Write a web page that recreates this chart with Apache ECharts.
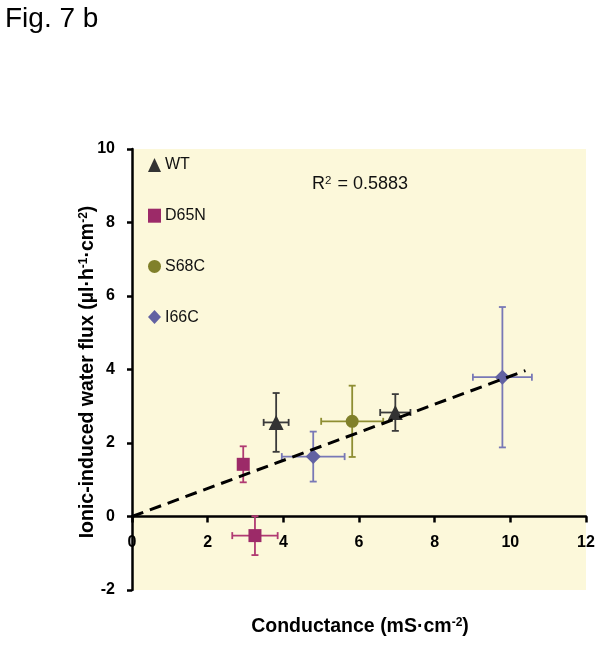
<!DOCTYPE html>
<html>
<head>
<meta charset="utf-8">
<script src="https://cdn.jsdelivr.net/npm/echarts@6/dist/echarts.min.js"></script>
<style>
html,body{margin:0;padding:0;background:#fff;}
#chart{width:602px;height:645px;}
</style>
</head>
<body>
<div id="chart"></div>
<script>
// Groups and values: [conductance, water flux]
var groups = ['WT', 'D65N', 'S68C', 'I66C'];
var wtX = [3.81, 6.96];
var wtY = [2.56, 2.83];
var wtXErr = [0.33, 0.40];
var wtYErr = [0.80, 0.50];
var d65nX = [2.94, 3.25];
var d65nY = [1.42, -0.52];
var d65nXErr = [0.10, 0.60];
var d65nYErr = [0.49, 0.53];
var s68cX = [5.82];
var s68cY = [2.59];
var s68cXErr = [0.82];
var s68cYErr = [0.97];
var i66cX = [4.79, 9.79];
var i66cY = [1.63, 3.79];
var i66cXErr = [0.83, 0.78];
var i66cYErr = [0.68, 1.91];
var trendX = [0, 10.4];
var trendY = [0, 3.97];
var xTicks = [0, 2, 4, 6, 8, 10, 12];
var yTicks = [-2, 0, 2, 4, 6, 8, 10];
var r2Text = '0.5883';

var FONT = '"Liberation Sans", Arial, sans-serif';

function pts(xs, ys) { return xs.map(function (x, i) { return [x, ys[i]]; }); }
function errs(xs, ys, ex, ey) { return xs.map(function (x, i) { return [x, ys[i], ex[i], ey[i]]; }); }

function errRender(color) {
  return function (params, api) {
    var x = api.value(0), y = api.value(1), ex = api.value(2), ey = api.value(3);
    var l = api.coord([x - ex, y]), r = api.coord([x + ex, y]);
    var t = api.coord([x, y + ey]), b = api.coord([x, y - ey]);
    var cap = 3.5;
    var st = { stroke: color, lineWidth: 1.8 };
    var ch = [];
    function line(x1, y1, x2, y2) { ch.push({ type: 'line', shape: { x1: x1, y1: y1, x2: x2, y2: y2 }, style: st }); }
    if (ey > 0) {
      line(t[0], t[1], b[0], b[1]);
      line(t[0] - cap, t[1], t[0] + cap, t[1]);
      line(b[0] - cap, b[1], b[0] + cap, b[1]);
    }
    if (ex > 0) {
      line(l[0], l[1], r[0], r[1]);
      line(l[0], l[1] - cap, l[0], l[1] + cap);
      line(r[0], r[1] - cap, r[0], r[1] + cap);
    }
    return { type: 'group', children: ch };
  };
}

var markerColors = { WT: '#333333', D65N: '#9c2a68', S68C: '#80802a', I66C: '#6262a2' };
var barColors = { WT: '#3a3a3a', D65N: '#b03a72', S68C: '#8e8e32', I66C: '#7878b6' };
var symbols = { WT: 'triangle', D65N: 'rect', S68C: 'circle', I66C: 'diamond' };
var sizes = { WT: 15, D65N: 13, S68C: 13, I66C: 15 };

var dataSets = {
  WT: [wtX, wtY, wtXErr, wtYErr],
  D65N: [d65nX, d65nY, d65nXErr, d65nYErr],
  S68C: [s68cX, s68cY, s68cXErr, s68cYErr],
  I66C: [i66cX, i66cY, i66cXErr, i66cYErr]
};

var series = [];
groups.forEach(function (g) {
  var d = dataSets[g];
  series.push({
    name: g + ' error', type: 'custom', renderItem: errRender(barColors[g]),
    data: errs(d[0], d[1], d[2], d[3]), z: 2, silent: true,
    encode: { x: 0, y: 1 }
  });
});
groups.forEach(function (g) {
  var d = dataSets[g];
  series.push({
    name: g, type: 'scatter', symbol: symbols[g], symbolSize: sizes[g],
    itemStyle: { color: markerColors[g], opacity: 1 },
    data: pts(d[0], d[1]), z: 3
  });
});
series.push({
  name: 'trend', type: 'line', data: pts(trendX, trendY), showSymbol: false, symbol: 'none',
  lineStyle: { color: '#000', width: 3, type: [12, 7] }, z: 5, silent: true
});

var GRID_TOP = 149, GRID_BOTTOM = 55, CH = 645;
var plotH = CH - GRID_TOP - GRID_BOTTOM;
// shift the x axis (line, ticks and labels) up to y = 0
var zeroOffset = -plotH * (0 - yTicks[0]) / (yTicks[yTicks.length - 1] - yTicks[0]);

var chart = echarts.init(document.getElementById('chart'), null, { renderer: 'canvas' });
chart.setOption({
  animation: false,
  backgroundColor: '#ffffff',
  textStyle: { fontFamily: FONT },
  grid: { left: 132, right: 16, top: GRID_TOP, bottom: GRID_BOTTOM, show: true, backgroundColor: '#fcf8da', borderWidth: 0 },
  legend: {
    orient: 'vertical', left: 143, top: 152,
    itemWidth: 13, itemHeight: 14, itemGap: 34.7,
    textStyle: { fontFamily: FONT, fontSize: 16, color: '#111', lineHeight: 14, padding: [0, 0, 0, -1] },
    data: groups.map(function (g) { return { name: g, icon: symbols[g] }; }),
    selectedMode: false
  },
  xAxis: {
    type: 'value', min: xTicks[0], max: xTicks[xTicks.length - 1], interval: 2,
    offset: zeroOffset,
    axisLine: { onZero: false, lineStyle: { color: '#000', width: 2.5 } },
    axisTick: { show: true, length: 6, lineStyle: { color: '#000', width: 2.5 } },
    axisLabel: { fontFamily: FONT, fontSize: 16, fontWeight: 'bold', color: '#000', margin: 18 },
    splitLine: { show: false }
  },
  yAxis: {
    type: 'value', min: yTicks[0], max: yTicks[yTicks.length - 1], interval: 2,
    axisLine: { onZero: false, lineStyle: { color: '#000', width: 2.5 } },
    axisTick: { show: true, length: 5, lineStyle: { color: '#000', width: 2.5 } },
    axisLabel: { fontFamily: FONT, fontSize: 16, fontWeight: 'bold', color: '#000', margin: 17 },
    splitLine: { show: false }
  },
  graphic: [
    { type: 'text', left: 5, top: 5, style: { text: 'Fig. 7 b', fontFamily: FONT, fontSize: 28, fill: '#000' } },
    {
      type: 'text', x: 360, y: 184,
      style: {
        text: 'R{s|2} = ' + r2Text, fontFamily: FONT, fontSize: 18, fill: '#111',
        align: 'center', verticalAlign: 'middle',
        rich: { s: { fontFamily: FONT, fontSize: 11.5, fill: '#111', verticalAlign: 'top', padding: [0, 1, 7, 0] } }
      }
    },
    {
      type: 'text', x: 360, y: 627,
      style: {
        text: 'Conductance (mS·cm{s|-2})', fontFamily: FONT, fontSize: 19.5, fontWeight: 'bold', fill: '#000',
        align: 'center', verticalAlign: 'middle',
        rich: { s: { fontFamily: FONT, fontSize: 12, fontWeight: 'bold', fill: '#000', verticalAlign: 'top', padding: [0, 0, 8, 0] } }
      }
    },
    {
      type: 'text', x: 88, y: 372, rotation: Math.PI / 2,
      style: {
        text: 'Ionic-induced water flux (µl·h{s|-1}·cm{s|-2})', fontFamily: FONT, fontSize: 19.5, fontWeight: 'bold', fill: '#000',
        align: 'center', verticalAlign: 'middle',
        rich: { s: { fontFamily: FONT, fontSize: 12, fontWeight: 'bold', fill: '#000', verticalAlign: 'top', padding: [0, 0, 8, 0] } }
      }
    }
  ],
  series: series
});
</script>
</body>
</html>
